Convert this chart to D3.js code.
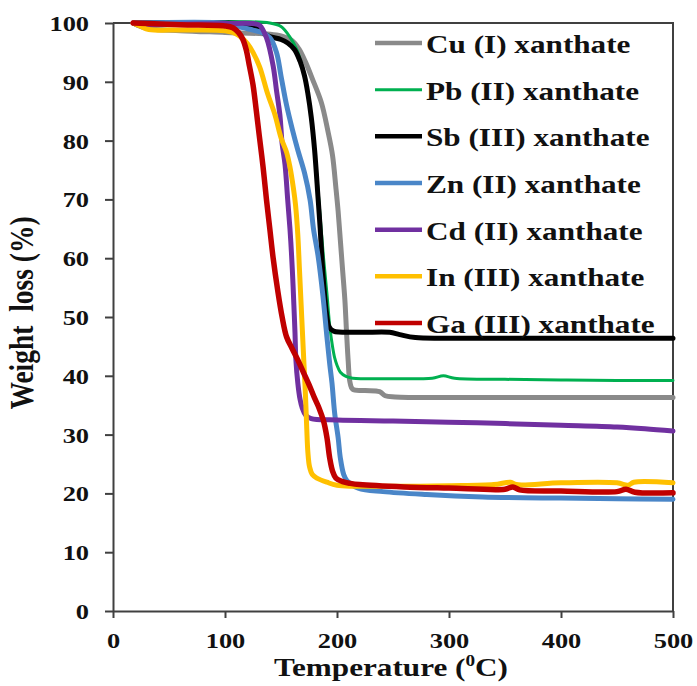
<!DOCTYPE html>
<html>
<head>
<meta charset="utf-8">
<script src="https://cdn.jsdelivr.net/npm/d3@7/dist/d3.min.js"></script>
<style>
  html, body { margin: 0; padding: 0; background: #fff; }
  svg { display: block; }
  text { font-family: "Liberation Serif", "Times New Roman", serif; font-weight: bold; fill: #111; }
</style>
</head>
<body>
<svg id="chart" width="697" height="686"></svg>
<script>
// TGA curves: [temperature (°C), weight (%)]
const cuData = [[18,100],[30,99.1],[60,98.7],[100,98.4],[140,98.1],[150,97.8],[160,97.0],[166,95.6],[172,93.3],[178,90.5],[186,86.5],[192,81.5],[196,77.5],[199,72],[201,68],[203,63],[205,58],[207,53],[208.5,47.5],[210,42.5],[211.5,39],[214,37.7],[225,37.5],[238,37.3],[243,36.6],[252,36.4],[300,36.3],[400,36.3],[500,36.3]];
const pbData = [[18,100],[140,100],[150,99.4],[158,97.6],[164,95.5],[169,92.5],[174,88],[178,82],[182,74],[185,67],[188,60],[191,54],[193.5,48.5],[196,45],[198,43],[200,41.8],[203,40.6],[208,39.9],[214,39.6],[250,39.5],[285,39.6],[295,40.0],[305,39.6],[350,39.4],[400,39.3],[450,39.2],[500,39.2]];
const sbData = [[18,100],[100,100],[125,99.6],[130,99.0],[134,98.3],[140,97.7],[150,97.2],[156,96.6],[162,95.5],[167,93.5],[171,91],[174,88],[177,84],[180,78.4],[183,70.5],[185,65],[187,58.5],[189,53.5],[191,50],[193,48.3],[197,47.6],[220,47.4],[247,47.4],[256,47.0],[270,46.5],[300,46.4],[400,46.4],[500,46.4]];
const znData = [[18,100],[100,100],[110,99.6],[116,99.2],[125,98.8],[134,98.3],[140,97.5],[146,95],[150,91],[155,86],[160,82],[165,78.4],[171,74.5],[176,69.9],[179,65],[183,60.5],[187.5,53.5],[191,46.6],[193.5,42],[195.5,38.8],[198,33.5],[201,29.5],[203,26],[206,23.2],[209,22.1],[219,20.9],[241,20.3],[280,19.8],[330,19.4],[400,19.2],[450,19.1],[500,19.0]];
const cdData = [[18,100],[25,99.5],[35,99.7],[100,99.9],[125,99.9],[131,99.6],[137,97.5],[143,92.7],[146,88.5],[149,84.4],[151,79.5],[153.6,75.9],[156,69.9],[158,65],[159.3,61],[160.5,56.5],[161.5,52],[162.5,47.3],[163.3,42.7],[165,38.8],[167,36],[169,34.5],[172,33.3],[177,32.7],[200,32.5],[250,32.3],[325,32.0],[400,31.6],[450,31.3],[475,31.0],[500,30.6]];
const inData = [[18,100],[25,99.4],[32,98.9],[60,98.8],[100,98.7],[107,98.4],[113,97.8],[120,96.5],[125,95],[131,92.5],[138,88],[144.6,84.4],[150,80.5],[155,78],[158,75.5],[161,72],[163,69],[165,64],[166.5,58],[168,52],[169.5,46],[170.5,42],[172,36],[173,31],[174,27],[175.5,24.5],[178,23.2],[182,22.6],[191,21.9],[200,21.4],[250,21.2],[300,21.3],[340,21.5],[355,21.9],[360,21.5],[400,21.8],[450,21.8],[460,21.4],[465,21.9],[500,21.8]];
const gaData = [[18,100],[60,99.7],[100,99.5],[107,99.2],[112,98.4],[116,97.2],[119,95.4],[122,92.5],[125,89.5],[128,85],[130.5,81],[134,75.5],[137,70],[140,65],[143,60],[147,54.6],[151,50],[155,46.6],[160,44.6],[165,42.7],[170,40.6],[175,38.5],[180,36.2],[184,34.5],[188,32.3],[191,29.5],[193.5,26],[196,23.8],[199,22.6],[205,22],[212,21.7],[220,21.5],[260,21.1],[300,20.9],[350,20.7],[357,21.1],[363,20.6],[400,20.4],[450,20.3],[458,20.7],[466,20.2],[500,20.1]];

const seriesNames = ["Cu (I) xanthate","Pb (II) xanthate","Sb (III) xanthate","Zn (II) xanthate","Cd (II) xanthate","In (III) xanthate","Ga (III) xanthate"];
const seriesData = [cuData, pbData, sbData, znData, cdData, inData, gaData];
const seriesColors = ["#8a8a8a","#00b050","#000000","#4a86c8","#7030a0","#ffc000","#c00000"];
const seriesWidths = [5, 3, 5, 5, 5, 5, 5.5];

const xTicks = [0, 100, 200, 300, 400, 500];
const yTicks = [0, 10, 20, 30, 40, 50, 60, 70, 80, 90, 100];

const svg = d3.select("#chart");
const plotLeft = 113, plotRight = 673, plotTop = 23, plotBottom = 611;
const axisColor = "#404040";

const x = d3.scaleLinear().domain([0, 500]).range([plotLeft, plotRight]);
const y = d3.scaleLinear().domain([0, 100]).range([plotBottom, plotTop]);

// plot frame (top and right edges)
svg.append("path")
  .attr("d", `M${plotLeft},${plotTop}H${plotRight}V${plotBottom}`)
  .attr("fill", "none").attr("stroke", axisColor).attr("stroke-width", 2);

// curves
const line = d3.line()
  .x(d => x(d[0])).y(d => y(d[1]))
  .curve(d3.curveCatmullRom.alpha(0.5));

const curves = svg.append("g");
seriesData.forEach((data, i) => {
  curves.append("path")
    .datum(data)
    .attr("d", line)
    .attr("fill", "none")
    .attr("stroke", seriesColors[i])
    .attr("stroke-width", seriesWidths[i])
    .attr("stroke-linejoin", "round")
    .attr("stroke-linecap", "round");
});

// axes
const xAxis = svg.append("g")
  .attr("transform", `translate(0,${plotBottom})`)
  .call(d3.axisBottom(x).tickValues(xTicks).tickSize(7).tickSizeOuter(0));
const yAxis = svg.append("g")
  .attr("transform", `translate(${plotLeft},0)`)
  .call(d3.axisLeft(y).tickValues(yTicks).tickSize(8).tickSizeOuter(0));

[xAxis, yAxis].forEach(a => {
  a.select(".domain").attr("stroke", axisColor).attr("stroke-width", 2);
  a.selectAll(".tick line").attr("stroke", axisColor).attr("stroke-width", 2);
  a.selectAll(".tick text")
    .attr("font-family", null).attr("font-size", null)
    .style("font-size", "22px").attr("fill", "#111");
});
xAxis.selectAll(".tick text").attr("y", 37).attr("dy", 0).attr("transform", "scale(1.2,1)");
yAxis.selectAll(".tick text").attr("x", -20).attr("dy", "0.34em").attr("transform", "scale(1.2,1)");

// axis titles
const xt = svg.append("g").attr("transform", `translate(391,676)`)
  .append("text").attr("text-anchor", "middle").attr("transform", "scale(1.2,1)")
  .style("font-size", "26px");
xt.append("tspan").text("Temperature (");
xt.append("tspan").text("0").style("font-size", "16px").attr("dy", -10);
xt.append("tspan").text("C)").attr("dy", 10);

svg.append("g").attr("transform", `translate(33,313) rotate(-90) scale(1,1.2)`)
  .append("text").attr("text-anchor", "middle")
  .style("font-size", "27.5px").style("white-space", "pre")
  .text("Weight  loss (%)");

// legend
const legend = svg.append("g");
seriesNames.forEach((name, i) => {
  const ly = 43 + i * 46.67;
  legend.append("line")
    .attr("x1", 375).attr("x2", 422).attr("y1", ly).attr("y2", ly)
    .attr("stroke", seriesColors[i])
    .attr("stroke-width", i === 1 ? 3 : 4.5);
  legend.append("g").attr("transform", `translate(426,${ly + 10})`)
    .append("text").attr("transform", "scale(1.2,1)")
    .style("font-size", "26px").text(name);
});
</script>
</body>
</html>
